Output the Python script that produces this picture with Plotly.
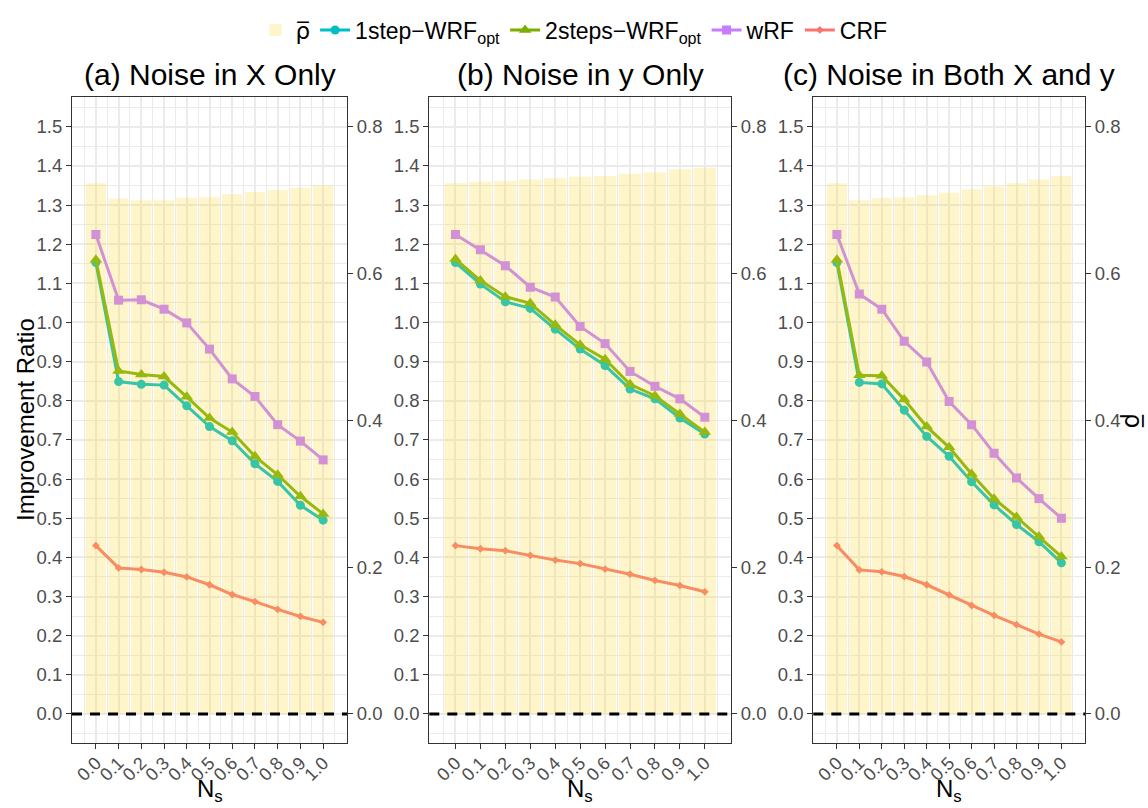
import plotly.graph_objects as go

# Noise proportion N_s on the x axis
NS = [0.0, 0.1, 0.2, 0.3, 0.4, 0.5, 0.6, 0.7, 0.8, 0.9, 1.0]
NS_LABELS = ["0.0", "0.1", "0.2", "0.3", "0.4", "0.5", "0.6", "0.7", "0.8", "0.9", "1.0"]

PANEL_TITLES = ["(a) Noise in X Only", "(b) Noise in y Only", "(c) Noise in Both X and y"]

# mean correlation rho-bar (secondary axis, bars)
rho_a = [0.723, 0.702, 0.700, 0.700, 0.703, 0.704, 0.708, 0.711, 0.714, 0.717, 0.720]
rho_b = [0.723, 0.725, 0.726, 0.728, 0.730, 0.732, 0.733, 0.736, 0.738, 0.742, 0.744]
rho_c = [0.723, 0.700, 0.703, 0.704, 0.707, 0.710, 0.715, 0.719, 0.723, 0.728, 0.733]

# improvement ratio per method
one_a = [1.153, 0.849, 0.842, 0.840, 0.787, 0.734, 0.698, 0.639, 0.594, 0.533, 0.495]
two_a = [1.160, 0.876, 0.867, 0.862, 0.810, 0.756, 0.720, 0.658, 0.611, 0.556, 0.511]
wrf_a = [1.225, 1.057, 1.058, 1.034, 0.999, 0.932, 0.856, 0.811, 0.739, 0.697, 0.649]
crf_a = [0.430, 0.373, 0.369, 0.362, 0.350, 0.330, 0.305, 0.287, 0.267, 0.249, 0.234]

one_b = [1.153, 1.098, 1.053, 1.036, 0.983, 0.932, 0.890, 0.830, 0.805, 0.756, 0.715]
two_b = [1.162, 1.107, 1.066, 1.049, 0.994, 0.943, 0.906, 0.842, 0.813, 0.766, 0.720]
wrf_b = [1.225, 1.186, 1.145, 1.090, 1.065, 0.990, 0.946, 0.875, 0.837, 0.805, 0.758]
crf_b = [0.430, 0.422, 0.417, 0.405, 0.393, 0.384, 0.370, 0.357, 0.341, 0.328, 0.312]

one_c = [1.153, 0.847, 0.843, 0.776, 0.709, 0.658, 0.593, 0.534, 0.484, 0.440, 0.386]
two_c = [1.160, 0.865, 0.864, 0.803, 0.734, 0.681, 0.613, 0.550, 0.503, 0.453, 0.402]
wrf_c = [1.225, 1.073, 1.034, 0.952, 0.899, 0.798, 0.739, 0.666, 0.603, 0.550, 0.500]
crf_c = [0.430, 0.368, 0.363, 0.351, 0.330, 0.304, 0.277, 0.252, 0.228, 0.204, 0.184]

IR_TICKS = [0.0, 0.1, 0.2, 0.3, 0.4, 0.5, 0.6, 0.7, 0.8, 0.9, 1.0, 1.1, 1.2, 1.3, 1.4, 1.5]
IR_LABELS = ["0.0", "0.1", "0.2", "0.3", "0.4", "0.5", "0.6", "0.7", "0.8", "0.9",
             "1.0", "1.1", "1.2", "1.3", "1.4", "1.5"]
RHO_TICKS = [0.0, 0.2, 0.4, 0.6, 0.8]
RHO_LABELS = ["0.0", "0.2", "0.4", "0.6", "0.8"]

panels = [
    (rho_a, one_a, two_a, wrf_a, crf_a),
    (rho_b, one_b, two_b, wrf_b, crf_b),
    (rho_c, one_c, two_c, wrf_c, crf_c),
]

FONT = "Liberation Sans, Arial, sans-serif"
RHO_TEXT = '<span style="font-family:DejaVu Sans">\u03c1\u0305</span>'
W, H = 1148, 808
PANEL_X = [(72, 347), (429.3, 731), (813.3, 1085)]
TOP, BOTTOM = 97.4, 743.3
IR_RANGE = [-0.075, 1.575]
RHO_SCALE = 1.875  # rho axis = improvement-ratio axis / 1.875
RHO_RANGE = [IR_RANGE[0] / RHO_SCALE, IR_RANGE[1] / RHO_SCALE]

TINT = (250, 218, 60)
TINT_ALPHA = 0.22
BAR_COLOR = "rgba(250,220,70,0.28)"


def tinted(hex_color):
    """Line colour as seen through the translucent yellow bar fill."""
    r, g, b = (int(hex_color[i:i + 2], 16) for i in (1, 3, 5))
    mix = [round(c * (1 - TINT_ALPHA) + t * TINT_ALPHA) for c, t in zip((r, g, b), TINT)]
    return "rgb({},{},{})".format(*mix)


SERIES = [
    ("1step\u2212WRF<sub>opt</sub>", "#00BFC4", "circle", 9),
    ("2steps\u2212WRF<sub>opt</sub>", "#7CAE00", "triangle-up", 11),
    ("wRF", "#C77CFF", "square", 9),
    ("CRF", "#F8766D", "diamond", 6),
]

GRID = "#EBEBEB"
AX = "#333333"
TICKFONT = dict(family=FONT, size=18.5, color="#4D4D4D")
XTICKFONT = dict(family=FONT, size=18, color="#4D4D4D")

fig = go.Figure()
annotations = []
shapes = []

for k, (rho, one, two, wrf, crf) in enumerate(panels, start=1):
    xa = f"x{k}" if k > 1 else "x"
    yr_num = 2 * k - 1   # rho-bar axis (base, right)
    yi_num = 2 * k       # improvement ratio axis (overlay, left)
    yr = "y" if yr_num == 1 else f"y{yr_num}"
    yi = f"y{yi_num}"
    first = k == 1

    fig.add_trace(go.Bar(
        x=NS, y=rho, width=0.09, marker=dict(color=BAR_COLOR, line=dict(width=0)),
        name=RHO_TEXT, legendgroup="rho", legendrank=1, showlegend=first,
        xaxis=xa, yaxis=yr, hoverinfo="skip",
    ))
    for (name, color, symbol, size), vals in zip(SERIES, (one, two, wrf, crf)):
        c = tinted(color)
        fig.add_trace(go.Scatter(
            x=NS, y=vals, mode="lines+markers", name=name, legendgroup=name,
            showlegend=False, line=dict(color=c, width=3),
            marker=dict(symbol=symbol, size=size, color=c, line=dict(width=0)),
            xaxis=xa, yaxis=yi,
        ))

    x0, x1 = PANEL_X[k - 1]
    dom_x = [x0 / W, x1 / W]
    dom_y = [1 - BOTTOM / H, 1 - TOP / H]

    fig.layout[f"xaxis{k}" if k > 1 else "xaxis"] = dict(
        domain=dom_x, anchor=yr, range=[-0.105, 1.105],
        tickmode="array", tickvals=NS, ticktext=NS_LABELS, tickangle=-45,
        tickfont=XTICKFONT, ticks="outside", ticklen=5, tickcolor=AX, tickwidth=1,
        ticklabelstandoff=-4,
        showgrid=True, gridcolor=GRID, gridwidth=2,
        minor=dict(tickmode="linear", tick0=0.05, dtick=0.1, showgrid=True,
                   gridcolor=GRID, gridwidth=1, ticks=""),
        showline=True, linecolor=AX, linewidth=1.2, mirror=True, zeroline=False,
    )
    fig.layout[f"yaxis{yr_num}" if yr_num > 1 else "yaxis"] = dict(
        domain=dom_y, anchor=xa, side="right", range=RHO_RANGE,
        tickmode="array", tickvals=RHO_TICKS, ticktext=RHO_LABELS,
        tickfont=TICKFONT, ticks="outside", ticklen=5, tickcolor=AX, tickwidth=1,
        showgrid=False, showline=True, linecolor=AX, linewidth=1.2, zeroline=False,
    )
    fig.layout[f"yaxis{yi_num}"] = dict(
        overlaying=yr, anchor=xa, side="left", range=IR_RANGE,
        tickmode="array", tickvals=IR_TICKS, ticktext=IR_LABELS,
        tickfont=TICKFONT, ticks="outside", ticklen=5, tickcolor=AX, tickwidth=1,
        showgrid=True, gridcolor=GRID, gridwidth=2,
        minor=dict(tickmode="linear", tick0=0.05, dtick=0.1, showgrid=True,
                   gridcolor=GRID, gridwidth=1, ticks=""),
        showline=True, linecolor=AX, linewidth=1.2, zeroline=False,
    )

    # dashed reference line at zero improvement
    shapes.append(dict(
        type="line", xref=f"{xa} domain", yref=yi, x0=0, x1=1, y0=0, y1=0,
        line=dict(color="black", width=3, dash="10px,8px"), layer="above",
    ))

    cx = (x0 + x1) / 2 / W
    annotations.append(dict(
        text=PANEL_TITLES[k - 1], x=cx, y=1 - 75 / H, xref="paper", yref="paper",
        showarrow=False, xanchor="center", yanchor="middle",
        font=dict(family=FONT, size=30, color="black"),
    ))
    annotations.append(dict(
        text="N<sub>s</sub>", x=cx, y=0, xref="paper", yref="paper",
        showarrow=False, xanchor="center", yanchor="bottom",
        font=dict(family=FONT, size=24, color="black"),
    ))

# legend keys in the plain series colours
for rank, (name, color, symbol, size) in enumerate(SERIES, start=2):
    fig.add_trace(go.Scatter(
        x=[None], y=[None], mode="lines+markers", name=name, legendgroup=name,
        legendrank=rank, line=dict(color=color, width=3),
        marker=dict(symbol=symbol, size=size, color=color, line=dict(width=0)),
        xaxis="x", yaxis="y2",
    ))

annotations.append(dict(
    text="Improvement Ratio", x=25 / W, y=1 - 420 / H, xref="paper", yref="paper",
    showarrow=False, textangle=-90, xanchor="center", yanchor="middle",
    font=dict(family=FONT, size=24, color="black"),
))
annotations.append(dict(
    text=RHO_TEXT, x=1133 / W, y=1 - 420 / H, xref="paper", yref="paper",
    showarrow=False, textangle=90, xanchor="center", yanchor="middle",
    font=dict(family=FONT, size=24, color="black"),
))

fig.update_layout(
    width=W, height=H, margin=dict(l=0, r=0, t=0, b=0),
    paper_bgcolor="white", plot_bgcolor="white",
    font=dict(family=FONT, color="black"),
    showlegend=True,
    legend=dict(
        orientation="h", x=0.5, xanchor="center", y=1 - 30 / H, yanchor="middle",
        font=dict(family=FONT, size=23, color="black"), itemwidth=30,
        bgcolor="rgba(0,0,0,0)", tracegroupgap=0,
    ),
    annotations=annotations, shapes=shapes, barmode="overlay",
)

fig.write_html("out.html")
